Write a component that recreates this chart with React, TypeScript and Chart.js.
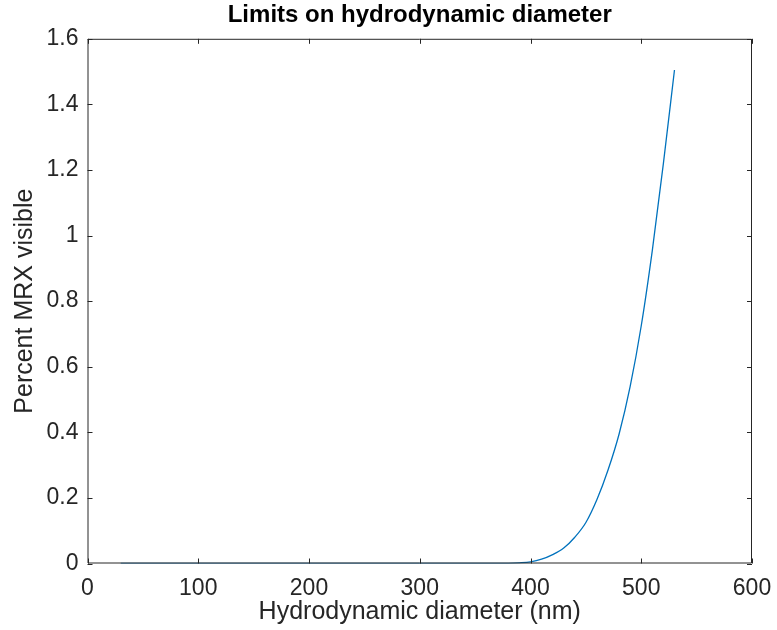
import React, { useEffect, useRef } from "react";
import { Chart, registerables } from "chart.js";

Chart.register(...registerables);

// Hydrodynamic diameter (nm) sampled along the curve
const diameters: number[] = [
  30, 50, 100, 150, 200, 250, 300, 350, 370, 380, 390, 400, 410, 420, 430, 440,
  450, 460, 470, 480, 490, 500, 510, 520, 530,
];
// Percent of MRX signal visible at each diameter
const percentVisible: number[] = [
  0, 0, 0, 0, 0, 0, 0, 0, 0, 0.0005, 0.002, 0.005, 0.013, 0.027, 0.047, 0.08,
  0.125, 0.195, 0.285, 0.395, 0.54, 0.725, 0.955, 1.22, 1.505,
];

const xTickValues: number[] = [0, 100, 200, 300, 400, 500, 600];
const yTickValues: number[] = [0, 0.2, 0.4, 0.6, 0.8, 1, 1.2, 1.4, 1.6];

const titleText = "Limits on hydrodynamic diameter";
const xLabel = "Hydrodynamic diameter (nm)";
const yLabel = "Percent MRX visible";

const AXIS_COLOR = "#262626";
const LINE_COLOR = "#0072BD";
const FONT = "'Liberation Sans', Arial, Helvetica, sans-serif";

// Draws the full axes box with inward tick marks on all four sides
const boxPlugin = {
  id: "boxTicks",
  afterDraw(chart: any) {
    const { ctx, chartArea, scales } = chart;
    const { left, right, top, bottom } = chartArea;
    const len = 5;
    ctx.save();
    ctx.strokeStyle = AXIS_COLOR;
    ctx.lineWidth = 1;
    ctx.beginPath();
    ctx.rect(left + 0.5, top + 0.5, right - left - 1, bottom - top - 1);
    ctx.stroke();
    ctx.beginPath();
    for (const v of xTickValues) {
      const x = Math.round(scales.x.getPixelForValue(v)) + 0.5;
      ctx.moveTo(x, bottom);
      ctx.lineTo(x, bottom - len);
      ctx.moveTo(x, top);
      ctx.lineTo(x, top + len);
    }
    for (const v of yTickValues) {
      const y = Math.round(scales.y.getPixelForValue(v)) + 0.5;
      ctx.moveTo(left, y);
      ctx.lineTo(left + len, y);
      ctx.moveTo(right, y);
      ctx.lineTo(right - len, y);
    }
    ctx.stroke();
    ctx.restore();
  },
};

export default function App() {
  const canvasRef = useRef<HTMLCanvasElement | null>(null);

  useEffect(() => {
    if (!canvasRef.current) return;
    const chart = new Chart(canvasRef.current, {
      type: "scatter",
      data: {
        datasets: [
          {
            data: diameters.map((d, i) => ({ x: d, y: percentVisible[i] })),
            showLine: true,
            borderColor: LINE_COLOR,
            borderWidth: 1.3,
            pointRadius: 0,
            cubicInterpolationMode: "monotone",
            fill: false,
          },
        ],
      },
      options: {
        responsive: false,
        animation: false,
        layout: { padding: { left: 0, top: 0, right: 25, bottom: 0 } },
        plugins: {
          legend: { display: false },
          tooltip: { enabled: false },
          title: {
            display: true,
            text: titleText,
            color: "#000",
            font: { family: FONT, size: 24, weight: "bold" },
            padding: { top: 1, bottom: 9 },
            fullSize: false,
          },
        },
        scales: {
          x: {
            type: "linear",
            min: 0,
            max: 600,
            afterBuildTicks(scale: any) {
              scale.ticks = xTickValues.map((v) => ({ value: v }));
            },
            afterFit(scale: any) {
              scale.height = 66.5;
              scale.paddingLeft = 0;
              scale.paddingRight = 0;
            },
            grid: { display: false, drawTicks: false },
            border: { display: false },
            ticks: {
              color: AXIS_COLOR,
              font: { family: FONT, size: 23 },
              padding: 11,
              maxRotation: 0,
              callback: (v: any) => String(v),
            },
            title: {
              display: true,
              text: xLabel,
              color: AXIS_COLOR,
              font: { family: FONT, size: 25 },
              padding: { top: 0, bottom: 3 },
            },
          },
          y: {
            type: "linear",
            min: 0,
            max: 1.6,
            afterBuildTicks(scale: any) {
              scale.ticks = yTickValues.map((v) => ({ value: v }));
            },
            afterFit(scale: any) {
              scale.width = 87.5;
              scale.paddingTop = 0;
              scale.paddingBottom = 0;
            },
            grid: { display: false, drawTicks: false },
            border: { display: false },
            ticks: {
              color: AXIS_COLOR,
              font: { family: FONT, size: 23 },
              padding: 9,
              callback: (v: any) => String(Number(Number(v).toFixed(1))),
            },
            title: {
              display: true,
              text: yLabel,
              color: AXIS_COLOR,
              font: { family: FONT, size: 25 },
              padding: { top: 10, bottom: 0 },
            },
          },
        },
      },
      plugins: [boxPlugin],
    });
    return () => chart.destroy();
  }, []);

  return (
    <div style={{ position: "absolute", left: 0, top: 0, width: 777, height: 630, background: "#fff" }}>
      <canvas ref={canvasRef} width={777} height={630} />
    </div>
  );
}
